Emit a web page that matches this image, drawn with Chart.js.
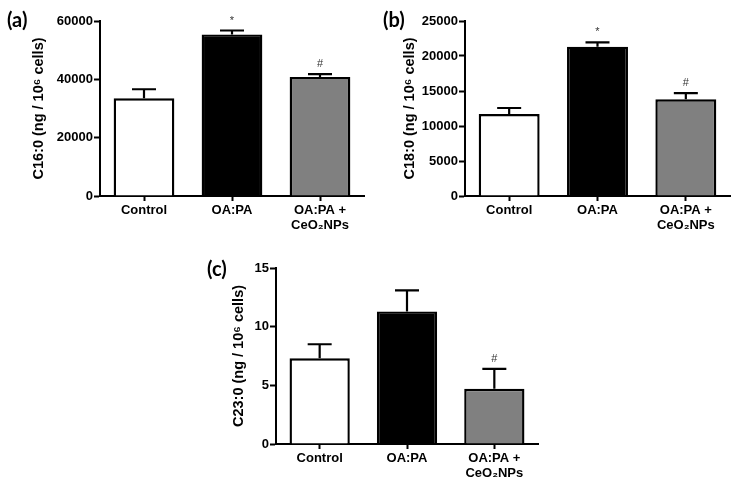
<!DOCTYPE html>
<html>
<head>
<meta charset="utf-8">
<script src="https://cdn.jsdelivr.net/npm/chart.js@4.4.1/dist/chart.umd.min.js"></script>
<style>
  body { margin: 0; background: #fff; width: 742px; height: 484px; position: relative; overflow: hidden; }
  canvas { position: absolute; }
  .panel { position: absolute; font: bold 20px Lato, "Open Sans", sans-serif; line-height: 1; color: #000; }
</style>
</head>
<body>
<canvas id="chartA" width="370" height="240" style="left:0;top:0"></canvas>
<canvas id="chartB" width="372" height="240" style="left:370px;top:0"></canvas>
<canvas id="chartC" width="360" height="244" style="left:190px;top:240px"></canvas>
<div class="panel" style="left:7px;top:9px">(a)</div>
<div class="panel" style="left:383px;top:9px">(b)</div>
<div class="panel" style="left:207px;top:258px">(c)</div>
<script>
// groups on the x axis
const groups = ["Control", "OA:PA", ["OA:PA +", "CeO₂NPs"]];
const barColors = ["#ffffff", "#000000", "#808080"];

// C16:0 (a)
const c16Mean = [33500, 55400, 40800];
const c16Err = [3100, 1350, 1000];
const c16Marks = ["", "*", "#"];

// C18:0 (b)
const c18Mean = [11700, 21330, 13810];
const c18Err = [870, 620, 900];
const c18Marks = ["", "*", "#"];

// C23:0 (c)
const c23Mean = [7.3, 11.3, 4.7];
const c23Err = [1.2, 1.8, 1.7];
const c23Marks = ["", "", "#"];

const tickFont = { family: "'Liberation Sans', Arial, sans-serif", size: 13, weight: "bold" };

// error bars (upper half only) and significance marks
const errorBars = {
  id: "errorBars",
  afterDatasetsDraw(chart, args, opts) {
    const ctx = chart.ctx;
    const y = chart.scales.y;
    const meta = chart.getDatasetMeta(0);
    ctx.save();
    ctx.strokeStyle = "#000";
    ctx.lineWidth = 2.2;
    meta.data.forEach((bar, i) => {
      const top = y.getPixelForValue(opts.mean[i]);
      const cap = y.getPixelForValue(opts.mean[i] + opts.err[i]);
      ctx.beginPath();
      ctx.moveTo(bar.x, top);
      ctx.lineTo(bar.x, cap);
      ctx.moveTo(bar.x - 12, cap);
      ctx.lineTo(bar.x + 12, cap);
      ctx.stroke();
      if (opts.marks[i]) {
        ctx.fillStyle = "#333";
        ctx.font = "11px 'Liberation Sans', Arial, sans-serif";
        ctx.textAlign = "center";
        ctx.textBaseline = "middle";
        ctx.fillText(opts.marks[i], bar.x, cap - 10);
      }
    });
    ctx.restore();
  }
};

function makeChart(id, mean, err, marks, title, maxY, step, yWidth, xHeight, pad, titlePad) {
  return new Chart(document.getElementById(id), {
    type: "bar",
    data: {
      labels: groups,
      datasets: [{
        data: mean,
        backgroundColor: barColors,
        borderColor: "#000",
        borderWidth: 2.4,
        barPercentage: 0.69,
        categoryPercentage: 1
      }]
    },
    options: {
      responsive: false,
      animation: false,
      layout: { padding: pad },
      plugins: {
        legend: { display: false },
        tooltip: { enabled: false },
        errorBars: { mean: mean, err: err, marks: marks }
      },
      scales: {
        x: {
          grid: { offset: false, drawOnChartArea: false, tickLength: 5, tickWidth: 2, tickColor: "#000" },
          border: { color: "#000", width: 2 },
          ticks: { color: "#000", font: { ...tickFont, lineHeight: 1.15 }, padding: 2, maxRotation: 0 },
          afterFit: s => { s.height = xHeight; }
        },
        y: {
          min: 0,
          max: maxY,
          grid: { drawOnChartArea: false, tickLength: 6, tickWidth: 2, tickColor: "#000" },
          border: { color: "#000", width: 2 },
          ticks: { stepSize: step, color: "#000", font: tickFont, padding: 1, callback: v => String(v) },
          title: {
            display: true,
            text: title,
            color: "#000",
            font: { family: "'Liberation Sans', Arial, sans-serif", size: 14.5, weight: "bold" },
            padding: { top: titlePad, bottom: 0 }
          },
          afterFit: s => { s.width = yWidth; }
        }
      }
    },
    plugins: [errorBars]
  });
}

makeChart("chartA", c16Mean, c16Err, c16Marks, "C16:0 (ng / 10⁶ cells)", 60000, 20000, 100, 44,
  { top: 21, right: 6, left: 0, bottom: 0 }, 30);
makeChart("chartB", c18Mean, c18Err, c18Marks, "C18:0 (ng / 10⁶ cells)", 25000, 5000, 95, 44,
  { top: 21, right: 12, left: 0, bottom: 0 }, 31);
makeChart("chartC", c23Mean, c23Err, c23Marks, "C23:0 (ng / 10⁶ cells)", 15, 5, 86, 40,
  { top: 28, right: 12, left: 0, bottom: 0 }, 40);
</script>
</body>
</html>
